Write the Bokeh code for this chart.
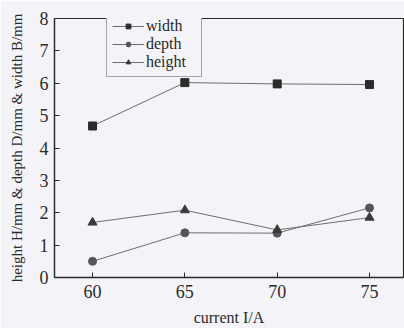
from bokeh.plotting import figure
from bokeh.models import Range1d, FixedTicker, Legend, LegendItem
from bokeh.embed import file_html
from bokeh.resources import INLINE

current = [60, 65, 70, 75]
width_mm = [4.68, 6.02, 5.98, 5.96]
depth_mm = [0.50, 1.38, 1.37, 2.15]
height_mm = [1.70, 2.08, 1.47, 1.85]
x_ticks = [60, 65, 70, 75]
y_ticks = [0, 1, 2, 3, 4, 5, 6, 7, 8]

FONT = "Liberation Serif"
INK = "#2b2b2b"
LINE = "#6e6e6e"
BG = "#f4f3f7"

p = figure(width=404, height=328, output_backend="svg", toolbar_location=None,
           x_range=Range1d(57.94, 76.84), y_range=Range1d(0, 8),
           min_border_left=54, min_border_right=1, min_border_top=18, min_border_bottom=46)
p.background_fill_color = BG
p.border_fill_color = BG
p.outline_line_color = INK
p.outline_line_width = 1.2
p.grid.visible = False

for ax in (p.xaxis[0], p.yaxis[0]):
    ax.major_tick_in = 5
    ax.major_tick_out = 0
    ax.minor_tick_line_color = None
    ax.axis_line_color = INK
    ax.axis_line_width = 1.3
    ax.major_tick_line_color = INK
    ax.major_label_text_font = FONT
    ax.major_label_text_font_size = "18px"
    ax.major_label_text_color = INK
    ax.axis_label_text_font = FONT
    ax.axis_label_text_font_style = "normal"
    ax.axis_label_text_color = INK
p.xaxis.ticker = FixedTicker(ticks=x_ticks)
p.yaxis.ticker = FixedTicker(ticks=y_ticks)
p.xaxis.axis_label = "current I/A"
p.xaxis.axis_label_text_font_size = "16px"
p.xaxis.major_label_standoff = 7
p.xaxis.axis_label_standoff = 8
p.yaxis.axis_label = "height H/mm & depth D/mm & width B/mm"
p.yaxis.axis_label_text_font_size = "15px"
p.yaxis.major_label_standoff = 6
p.yaxis.axis_label_standoff = 12

l1 = p.line(current, width_mm, line_color=LINE, line_width=1)
m1 = p.scatter(current, width_mm, marker="square", size=8, fill_color=INK, line_color=INK)
l2 = p.line(current, depth_mm, line_color=LINE, line_width=1)
m2 = p.scatter(current, depth_mm, marker="circle", size=8, fill_color="#555555", line_color="#555555")
l3 = p.line(current, height_mm, line_color=LINE, line_width=1)
m3 = p.scatter(current, height_mm, marker="triangle", size=9, fill_color="#3a3a3a", line_color="#3a3a3a")

legend = Legend(items=[LegendItem(label="width", renderers=[l1, m1]),
                       LegendItem(label="depth", renderers=[l2, m2]),
                       LegendItem(label="height", renderers=[l3, m3])],
                location=(52, 200))
legend.label_text_font = FONT
legend.label_text_font_size = "16px"
legend.label_text_color = INK
legend.label_height = 12
legend.glyph_height = 12
legend.glyph_width = 32
legend.label_width = 50
legend.label_standoff = 2
legend.spacing = -7
legend.padding = 5
legend.margin = 0
legend.border_line_color = "#555555"
legend.border_line_width = 1
legend.background_fill_color = BG
legend.background_fill_alpha = 1
p.add_layout(legend)

open("out.html", "w").write(file_html(p, INLINE))
